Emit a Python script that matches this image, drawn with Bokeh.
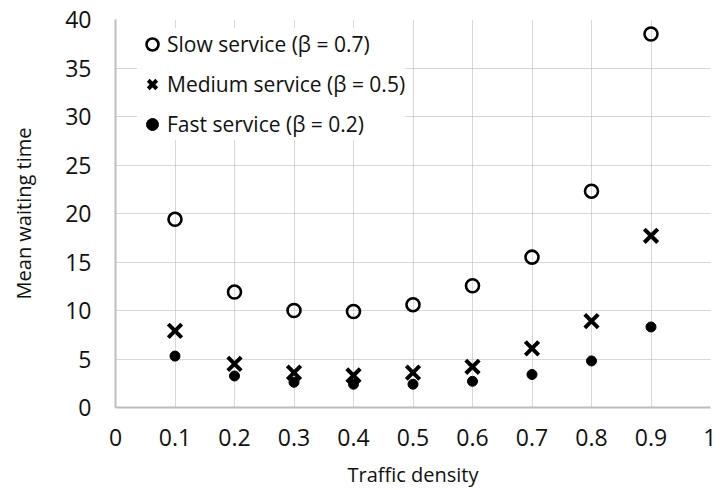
from bokeh.plotting import figure
from bokeh.models import Range1d, FixedTicker, Legend, LegendItem
from bokeh.embed import file_html
from bokeh.resources import INLINE

density = [0.1, 0.2, 0.3, 0.4, 0.5, 0.6, 0.7, 0.8, 0.9]
slow = [19.4, 11.9, 10.0, 9.9, 10.6, 12.55, 15.5, 22.3, 38.5]
medium = [7.9, 4.5, 3.6, 3.3, 3.6, 4.2, 6.1, 8.9, 17.7]
fast = [5.3, 3.25, 2.6, 2.4, 2.4, 2.7, 3.4, 4.8, 8.3]
x_ticks = [0, 0.1, 0.2, 0.3, 0.4, 0.5, 0.6, 0.7, 0.8, 0.9, 1]
x_tick_labels = ["0", "0.1", "0.2", "0.3", "0.4", "0.5", "0.6", "0.7", "0.8", "0.9", "1"]
y_ticks = [0, 5, 10, 15, 20, 25, 30, 35, 40]
labels = ["Slow service (\u03b2 = 0.7)", "Medium service (\u03b2 = 0.5)", "Fast service (\u03b2 = 0.2)"]

FONT = "Open Sans"
H = 490

p = figure(width=716, height=H, output_backend="svg", toolbar_location=None,
           x_range=Range1d(0, 1), y_range=Range1d(0, 40),
           min_border_left=115, min_border_right=6, min_border_top=19, min_border_bottom=H - 407)
p.outline_line_color = None
p.background_fill_color = "white"

for ax in (p.xaxis[0], p.yaxis[0]):
    ax.axis_line_color = "#bdbdbd"
    ax.axis_line_width = 2
    ax.major_tick_line_color = None
    ax.minor_tick_line_color = None
    ax.major_tick_out = 0
    ax.major_tick_in = 0
    ax.minor_tick_out = 0
    ax.major_label_text_font = FONT
    ax.major_label_text_font_size = "23px"
    ax.major_label_text_color = "#111111"
    ax.axis_label_text_font = FONT
    ax.axis_label_text_font_size = "20px"
    ax.axis_label_text_font_style = "normal"
    ax.axis_label_text_color = "#111111"

p.xaxis.ticker = FixedTicker(ticks=x_ticks)
p.xaxis.major_label_overrides = {t: l for t, l in zip(x_ticks, x_tick_labels)}
p.yaxis.ticker = FixedTicker(ticks=y_ticks)
p.xaxis.axis_label = "Traffic density"
p.yaxis.axis_label = "Mean waiting time"
p.xaxis.major_label_standoff = 21
p.yaxis.major_label_standoff = 24
p.xaxis.axis_label_standoff = 12
p.yaxis.axis_label_standoff = 25

for g in (p.xgrid[0], p.ygrid[0]):
    g.grid_line_color = "#b0b0b0"
    g.grid_line_dash = "1 1"
    g.grid_line_width = 1

r1 = p.scatter(density, slow, marker="circle", size=13, fill_color=None,
               line_color="black", line_width=2.6)
r2 = p.scatter(density, medium, marker="x", size=19, line_color="black", line_width=4)
r3 = p.scatter(density, fast, marker="circle", size=10, fill_color="black", line_color="black")

legend = Legend(items=[LegendItem(label=labels[0], renderers=[r1]),
                       LegendItem(label=labels[1], renderers=[r2]),
                       LegendItem(label=labels[2], renderers=[r3])],
                location=(22, 267))
legend.border_line_color = None
legend.background_fill_color = "white"
legend.background_fill_alpha = 1
legend.label_text_font = FONT
legend.label_text_font_size = "21px"
legend.label_text_color = "#111111"
legend.glyph_width = 30
legend.glyph_height = 32
legend.label_standoff = 0
legend.label_height = 32
legend.spacing = 8
legend.margin = 0
legend.padding = 10
p.add_layout(legend)

open("out.html", "w").write(file_html(p, INLINE))
